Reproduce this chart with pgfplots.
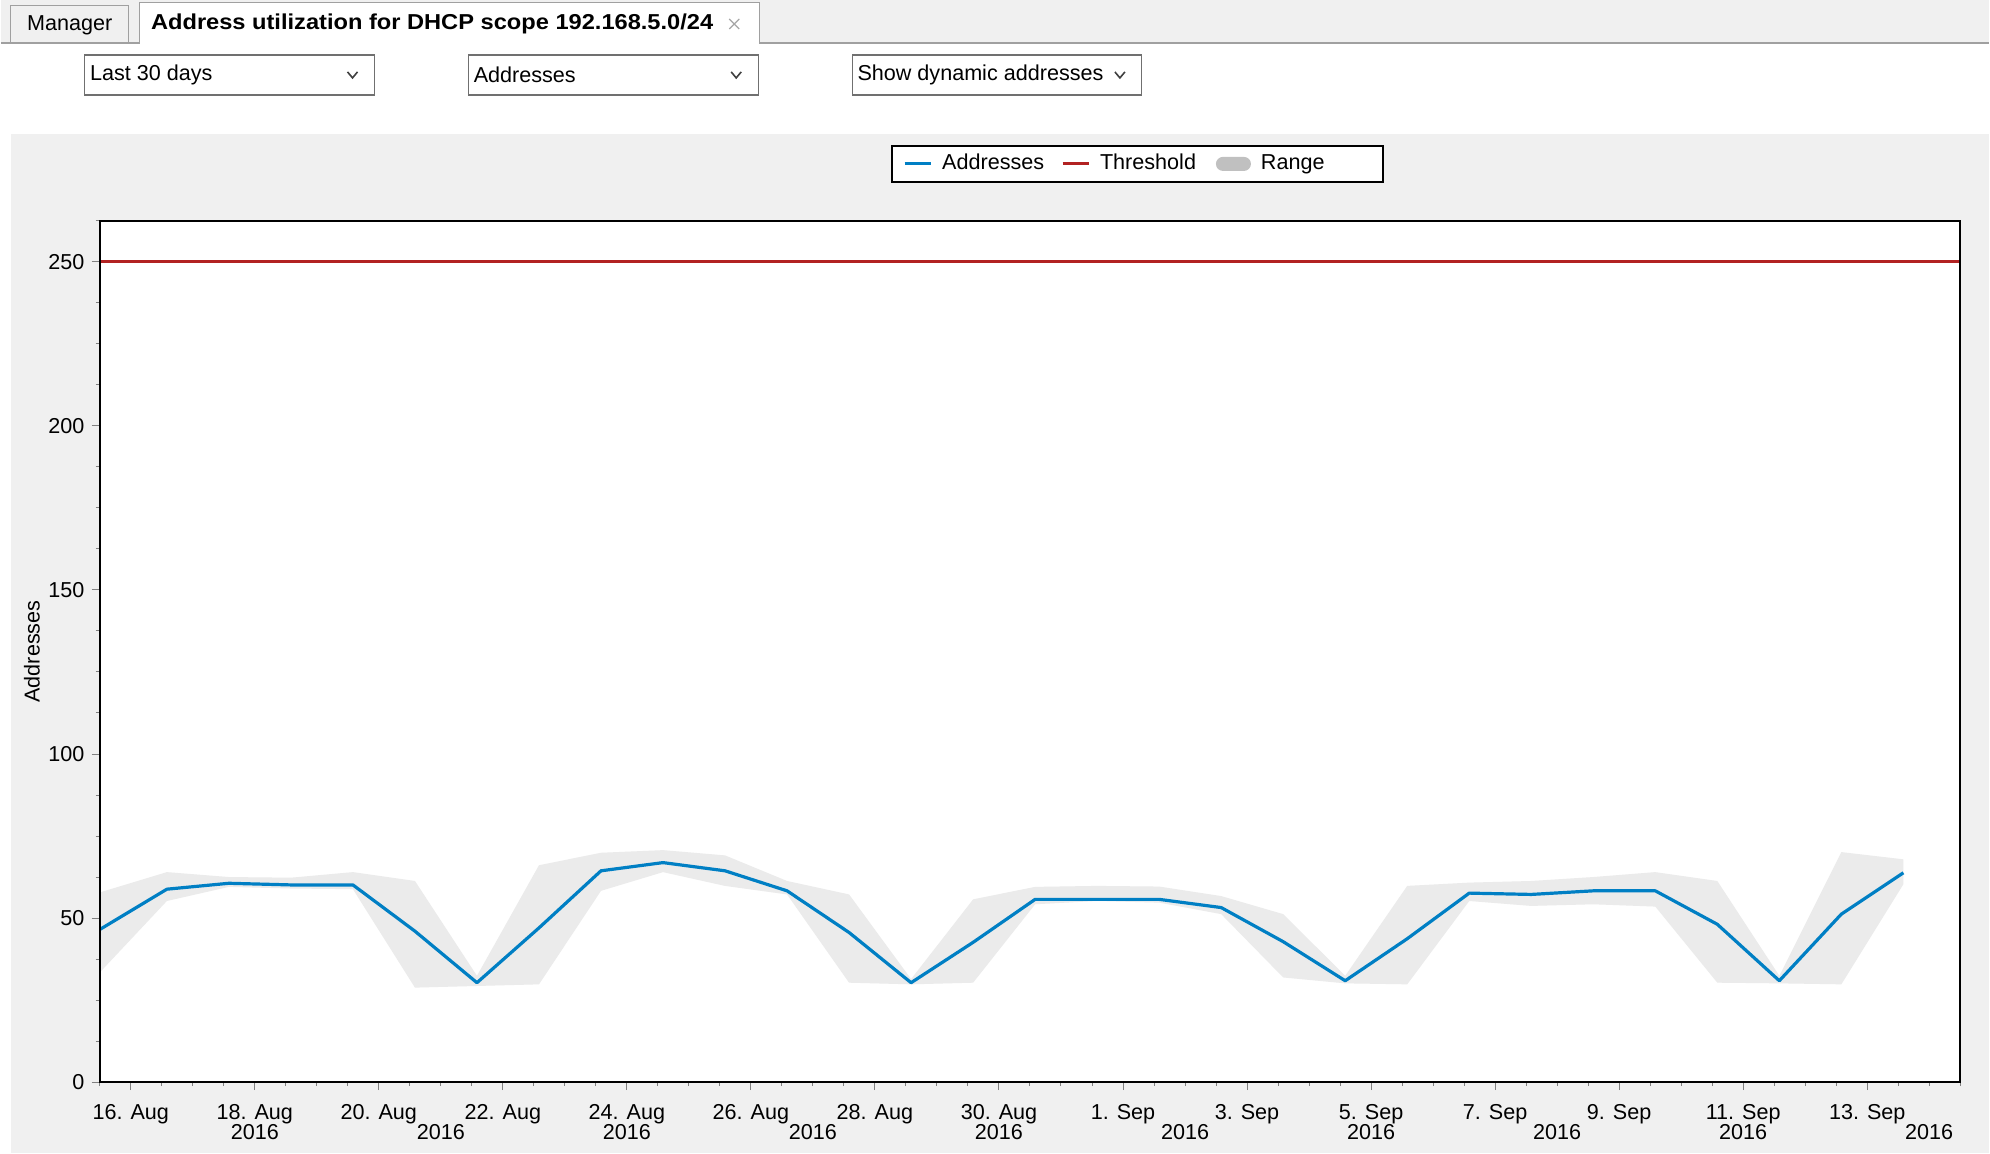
\documentclass[border=0pt]{standalone}
\usepackage{fontspec}
\setmainfont{Liberation Sans}
\usepackage{graphicx}
\usepackage{pgfplots}
\pgfplotsset{compat=1.18}
\usepackage{pgfplotstable}

\definecolor{panel}{RGB}{240,240,240}
\definecolor{band}{RGB}{235,235,235}
\definecolor{rangeswatch}{RGB}{192,192,192}
\definecolor{addr}{RGB}{0,127,196}
\definecolor{thr}{RGB}{178,34,34}
\definecolor{tickgray}{RGB}{128,128,128}
\definecolor{framegray}{RGB}{160,160,160}
\definecolor{boxgray}{RGB}{112,112,112}

\newcommand\ui{\fontsize{10.8pt}{12pt}\selectfont}

% x = days since 16 Aug 2016 00:00 (one value per day, taken at 14:00)
\pgfplotstableread{
x      avg
-0.5   46.5
0.583  58.8
1.583  60.6
2.583  60.1
3.583  60.1
4.583  46.0
5.583  30.3
6.583  47.0
7.583  64.4
8.583  66.9
9.583  64.4
10.583 58.3
11.583 45.6
12.583 30.3
13.583 42.6
14.583 55.7
15.583 55.7
16.583 55.7
17.583 53.2
18.583 42.8
19.583 30.9
20.583 43.7
21.583 57.6
22.583 57.2
23.583 58.3
24.583 58.3
25.583 48.1
26.583 30.9
27.583 51.2
28.583 63.8
}\utildata

% range band: daily maximum forward, daily minimum backward
\pgfplotstableread{
x      y
-0.5   57.8
0.583  64.0
1.583  62.5
2.583  62.3
3.583  64.0
4.583  61.3
5.583  32.4
6.583  66.1
7.583  69.9
8.583  70.7
9.583  69.1
10.583 61.3
11.583 57.2
12.583 31.4
13.583 55.7
14.583 59.5
15.583 59.8
16.583 59.6
17.583 56.7
18.583 51.2
19.583 32.4
20.583 59.8
21.583 60.8
22.583 61.3
23.583 62.5
24.583 64.0
25.583 61.3
26.583 32.4
27.583 70.1
28.583 67.9
28.583 60.3
27.583 29.8
26.583 30.1
25.583 30.3
24.583 53.5
23.583 54.2
22.583 53.7
21.583 55.2
20.583 29.8
19.583 30.1
18.583 31.9
17.583 51.2
16.583 54.7
15.583 55.2
14.583 54.2
13.583 30.3
12.583 29.8
11.583 30.3
10.583 57.2
9.583  59.8
8.583  64.0
7.583  58.3
6.583  29.8
5.583  29.3
4.583  28.8
3.583  58.8
2.583  59.0
1.583  59.5
0.583  55.2
-0.5   33.4
}\rangedata

\begin{document}
\begin{tikzpicture}
\fill[white] (0pt,0pt) rectangle (995pt,577pt);

% tab strip
\fill[panel] (0pt,555.5pt) rectangle (995pt,577pt);
\draw[framegray, line width=0.8pt] (0pt,555.5pt) -- (995pt,555.5pt);
\draw[framegray, fill=panel, line width=0.5pt] (5pt,555.5pt) rectangle (64pt,574pt);
\node[font=\ui] at (34.5pt,564.5pt) {Manager};
\fill[white] (69.5pt,555pt) rectangle (379.5pt,575.5pt);
\draw[framegray, line width=0.5pt] (69.5pt,555.5pt) -- (69.5pt,575.5pt) -- (379.5pt,575.5pt) -- (379.5pt,555.5pt);
\node[anchor=west, inner sep=0pt] at (75pt,565pt) {\scalebox{1.095}[1]{\ui\bfseries Address utilization for DHCP scope 192.168.5.0/24}};
\draw[gray!70, line width=0.6pt] (364.5pt,562.5pt) -- (369.5pt,567.5pt) (364.5pt,567.5pt) -- (369.5pt,562.5pt);

% drop-down boxes
\foreach \l/\t in {42/Last 30 days, 234/Addresses, 426/Show dynamic addresses}{
  \draw[boxgray, line width=0.6pt] (\l pt,529.5pt) rectangle ++(145pt,20pt);
  \node[font=\ui, anchor=west, inner sep=0pt] at ({\l pt+2.5pt},539.5pt) {\t};
  \draw[black!75, line width=0.8pt] ({\l pt+131.5pt},541pt) -- ++(2.5pt,-3pt) -- ++(2.5pt,3pt);
}

% chart panel
\fill[panel] (5pt,0pt) rectangle (995pt,510pt);

\begin{axis}[
  at={(49.5pt,35.5pt)}, anchor=south west,
  scale only axis, width=931pt, height=431pt,
  xmin=-0.5, xmax=29.5, ymin=0, ymax=262.5,
  axis background/.style={fill=white},
  axis on top,
  axis line style={black, line width=1pt},
  tick align=outside, tick pos=left,
  major tick length=4pt, minor tick length=2pt,
  every tick/.style={tickgray, line width=0.5pt},
  font=\ui,
  /pgf/number format/assume math mode=true,
  xtick={0,2,...,28},
  xticklabels={16. Aug, 18. Aug, 20. Aug, 22. Aug, 24. Aug, 26. Aug, 28. Aug, 30. Aug,
    1. Sep, 3. Sep, 5. Sep, 7. Sep, 9. Sep, 11. Sep, 13. Sep},
  minor xtick={-0.5,0,...,29.5},
  extra x ticks={2,5,...,29},
  extra x tick labels={2016,2016,2016,2016,2016,2016,2016,2016,2016,2016},
  extra x tick style={every tick/.style={draw=none}, xticklabel style={yshift=-10pt}},
  xticklabel style={anchor=north, inner sep=0pt, text height=7.7pt, text depth=0pt},
  xticklabel shift=7pt,
  ytick={0,50,...,250},
  minor ytick={0,12.5,...,262.5},
  yticklabel style={anchor=east, inner sep=0pt, text height=7.7pt, text depth=0pt},
  yticklabel shift=3.5pt,
  ylabel={Addresses},
  ylabel style={at={(axis description cs:-0.0365,0.5)}, anchor=center},
  legend image code/.code={\draw[#1] (0pt,0pt) -- (13pt,0pt);},
  legend cell align=left,
  legend columns=3,
  legend style={at={(rel axis cs:0.5578,1.044)}, anchor=south, draw=black,
    line width=1pt, fill=white, inner xsep=5.5pt, inner ysep=4pt, font=\ui,
    nodes={inner sep=0pt, text height=7.8pt, text depth=2.2pt},
    /tikz/every odd column/.append style={column sep=5pt},
    /tikz/every even column/.append style={column sep=0pt}},
]
\addplot[fill=band, draw=none, forget plot] table[x=x, y=y] {\rangedata} -- cycle;
\addplot[thr, line width=1.6pt, forget plot] coordinates {(-0.5,250) (29.5,250)};
\addplot[addr, line width=1.6pt, line join=round, forget plot] table[x=x, y=avg] {\utildata};
\draw[black, line width=1.5pt] (rel axis cs:0,1) -- (rel axis cs:0,0) -- (rel axis cs:1,0);

\addlegendimage{addr, line width=1.5pt}
\addlegendentry[text width=59.5pt, align=left]{Addresses}
\addlegendimage{thr, line width=1.5pt}
\addlegendentry[text width=58pt, align=left]{Threshold}
\addlegendimage{legend image code/.code={\fill[rangeswatch, rounded corners=3pt] (0pt,-3pt) rectangle (16.5pt,3pt);}}
\addlegendentry[text width=55.5pt, align=left]{Range}
\end{axis}
\end{tikzpicture}
\end{document}
